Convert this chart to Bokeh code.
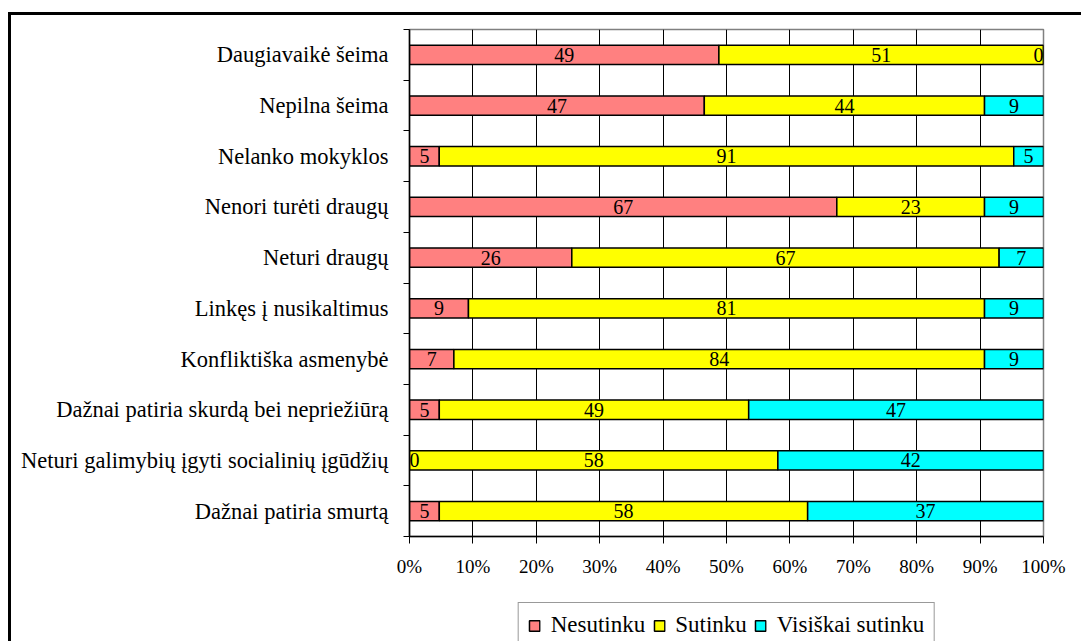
import math
from bokeh.plotting import figure
from bokeh.layouts import column
from bokeh.models import ColumnDataSource, FixedTicker, Legend, LegendItem
from bokeh.embed import file_html
from bokeh.resources import INLINE
from bokeh.core.properties import value

categories = [
    "Daugiavaikė šeima",
    "Nepilna šeima",
    "Nelanko mokyklos",
    "Nenori turėti draugų",
    "Neturi draugų",
    "Linkęs į nusikaltimus",
    "Konfliktiška asmenybė",
    "Dažnai patiria skurdą bei nepriežiūrą",
    "Neturi galimybių įgyti socialinių įgūdžių",
    "Dažnai patiria smurtą",
]
series = ["Nesutinku", "Sutinku", "Visiškai sutinku"]
nesutinku = [48.8, 46.5, 4.7, 67.4, 25.6, 9.3, 7.0, 4.7, 0.0, 4.7]
sutinku = [51.2, 44.2, 90.7, 23.3, 67.4, 81.4, 83.7, 48.8, 58.1, 58.1]
visiskai = [0.0, 9.3, 4.7, 9.3, 7.0, 9.3, 9.3, 46.5, 41.9, 37.2]
colors = ["#FF8080", "#FFFF00", "#00FFFF"]
x_ticks = [0, 10, 20, 30, 40, 50, 60, 70, 80, 90, 100]

FONT = "'Liberation Serif', 'Times New Roman', Times, serif"
n = len(categories)
ypos = [n - 1 - i for i in range(n)]
raw = [nesutinku, sutinku, visiskai]
totals = [sum(col[i] for col in raw) for i in range(n)]
shares = [[col[i] / totals[i] * 100 for i in range(n)] for col in raw]

data = {"y": ypos}
for s, col in zip(series, shares):
    data[s] = col
src = ColumnDataSource(data)

# label positions (centre of each segment)
lx, ly, lt, la = [], [], [], []
for i in range(n):
    left = 0.0
    for k in range(3):
        w = shares[k][i]
        c = left + w / 2
        lx.append(c)
        ly.append(ypos[i])
        lt.append(str(int(math.floor(raw[k][i] + 0.5))))
        la.append("left" if c < 0.5 else ("right" if c > 99.5 else "center"))
        left += w
lsrc = ColumnDataSource(dict(x=lx, y=ly, t=lt, a=la))

# ---------------- main chart ----------------
p = figure(
    width=1070, height=571,
    x_range=(0, 100), y_range=(-0.5, n - 0.5),
    output_backend="svg", toolbar_location=None,
    min_border_left=398, min_border_right=38,
    min_border_top=14, min_border_bottom=50,
)

rs = p.hbar_stack(series, y="y", height=0.38, color=colors,
                  line_color="black", line_width=1.5, source=src)

p.text(x="x", y="y", text="t", source=lsrc,
       text_font=value(FONT), text_font_size="20px",
       text_align="a", text_baseline="middle", text_color="black")

p.xaxis.ticker = FixedTicker(ticks=x_ticks)
p.xaxis.major_label_overrides = {t: f"{t}%" for t in x_ticks}
p.xaxis.major_label_text_font = FONT
p.xaxis.major_label_text_font_size = "19px"
p.xaxis.major_label_text_color = "black"
p.xaxis.major_label_standoff = 12
p.xaxis.major_tick_out = 7
p.xaxis.major_tick_in = 0
p.xaxis.major_tick_line_color = "black"
p.xaxis.minor_tick_line_color = None
p.xaxis.axis_line_color = "black"
p.xaxis.axis_line_width = 1.5

p.yaxis.ticker = FixedTicker(ticks=ypos, minor_ticks=[v - 0.5 for v in range(n + 1)])
p.yaxis.major_label_overrides = {ypos[i]: categories[i] for i in range(n)}
p.yaxis.major_label_text_font = FONT
p.yaxis.major_label_text_font_size = "22.5px"
p.yaxis.major_label_text_color = "black"
p.yaxis.major_label_standoff = 15
p.yaxis.major_tick_line_color = None
p.yaxis.minor_tick_line_color = "black"
p.yaxis.minor_tick_out = 6
p.yaxis.minor_tick_in = 0
p.yaxis.axis_line_color = "black"
p.yaxis.axis_line_width = 1.5

p.xgrid.ticker = FixedTicker(ticks=x_ticks)
p.xgrid.grid_line_color = "black"
p.xgrid.grid_line_width = 1
p.ygrid.grid_line_color = None
p.outline_line_color = "#808080"
p.outline_line_width = 1.5

# ---------------- legend strip ----------------
# hidden copies of the stacked renderers only supply the legend swatches
lg = figure(
    width=1070, height=55, x_range=(0, 100), y_range=(1000, 1001),
    output_backend="svg", toolbar_location=None,
    x_axis_location=None, y_axis_location=None,
    min_border_left=398, min_border_right=38,
    min_border_top=0, min_border_bottom=0,
)
lg.grid.visible = False
lg.outline_line_color = None
swatches = lg.hbar_stack(series, y="y", height=0.38, color=colors,
                         line_color="black", line_width=1.5, source=src)
for r in swatches:
    r.visible = False
legend = Legend(
    items=[LegendItem(label=s, renderers=[r]) for s, r in zip(series, swatches)],
    orientation="horizontal", location="top_center",
    label_text_font=FONT, label_text_font_size="23px", label_text_color="black",
    glyph_width=13, glyph_height=13, label_standoff=10, spacing=7,
    padding=9, margin=16, border_line_color="#333333", border_line_width=1,
    background_fill_color="white", background_fill_alpha=1,
    inactive_fill_alpha=0,
)
lg.add_layout(legend, "center")

layout = column(p, lg, spacing=0)
layout.styles = {"border-left": "3px solid black", "border-top": "3px solid black",
                 "margin-top": "12px", "margin-left": "8px"}

open("out.html", "w").write(file_html(layout, INLINE))
